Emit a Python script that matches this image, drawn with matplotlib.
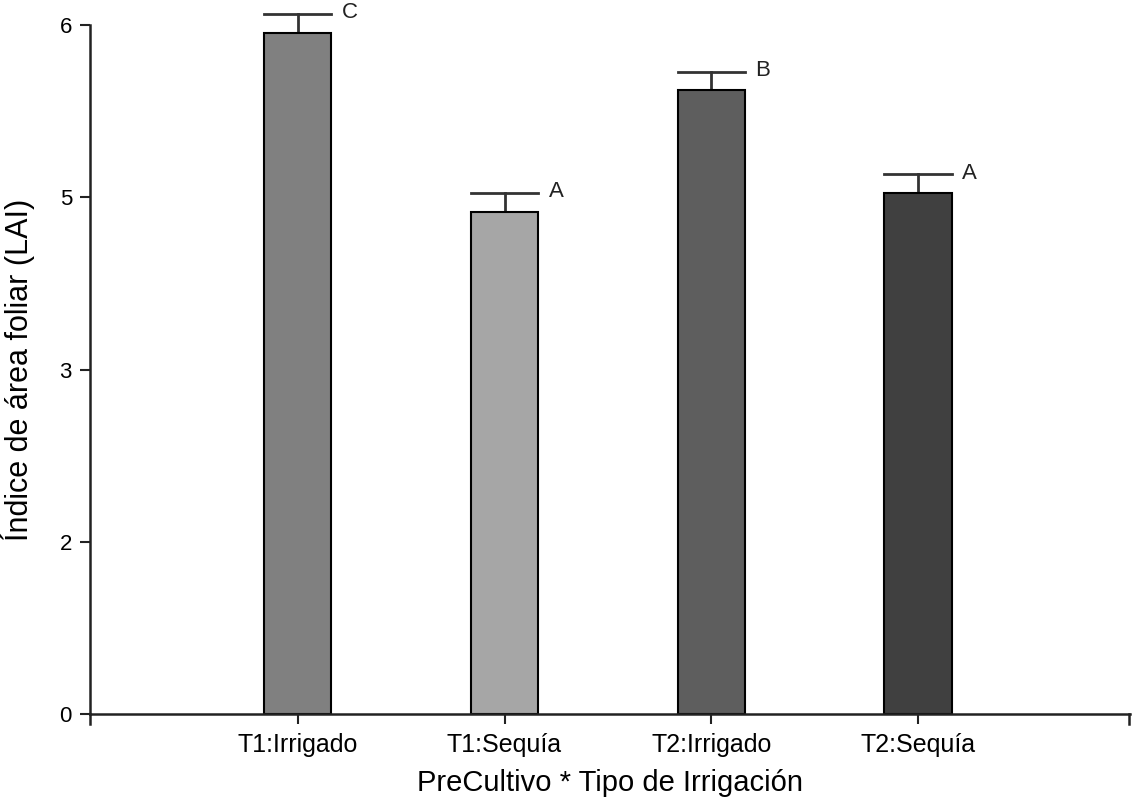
import matplotlib
matplotlib.use('Agg')
import matplotlib.pyplot as plt

categorias = ['T1:Irrigado', 'T1:Sequía', 'T2:Irrigado', 'T2:Sequía']
medias = [5.93, 4.37, 5.43, 4.54]
errores = [0.17, 0.17, 0.16, 0.16]
letras = ['C', 'A', 'B', 'A']
colores = ['#808080', '#a6a6a6', '#5e5e5e', '#404040']
yticks = [0, 1.5, 3, 4.5, 6]
ytick_labels = ['0', '2', '3', '5', '6']

plt.rcParams['font.family'] = ['Liberation Sans', 'DejaVu Sans']

fig = plt.figure(figsize=(11.33, 8.05), dpi=100)
ax = fig.add_axes([90 / 1133, 1 - 714 / 805, 1040 / 1133, 689 / 805])

x = list(range(len(categorias)))
ancho = 0.325
ax.bar(x, medias, width=ancho, color=colores, edgecolor='black', linewidth=1.5, zorder=2)

for i in x:
    top = medias[i] + errores[i]
    ax.plot([i, i], [medias[i], top], color='#333333', lw=2, zorder=1, clip_on=False)
    ax.plot([i - ancho / 2, i + ancho / 2], [top, top], color='#333333', lw=2,
            zorder=1, clip_on=False)
    ax.text(i + ancho / 2 + 0.05, top + 0.01, letras[i], fontsize=16, color='#222222',
            ha='left', va='center')

ax.set_xlim(-1.005, 4.025)
ax.set_ylim(0, 6)
ax.set_yticks(yticks)
ax.set_yticklabels(ytick_labels, fontsize=16)
ax.set_xticks(x)
ax.set_xticklabels(categorias, fontsize=18)
ax.tick_params(axis='both', direction='out', length=7, width=1.5, color='#222222')
ax.tick_params(axis='x', pad=7)
ax.tick_params(axis='y', pad=6)

for lado in ['top', 'right']:
    ax.spines[lado].set_visible(False)
for lado in ['left', 'bottom']:
    ax.spines[lado].set_linewidth(1.8)
    ax.spines[lado].set_color('#222222')

# marcas en los extremos del eje x
ax.plot([-1.005, -1.005], [0, -0.09], color='#222222', lw=1.8, clip_on=False)
ax.plot([4.02, 4.02], [0, -0.09], color='#222222', lw=1.8, clip_on=False)

ax.set_ylabel('Índice de área foliar (LAI)', fontsize=22, labelpad=18)
ax.set_xlabel('PreCultivo * Tipo de Irrigación', fontsize=21, labelpad=8)

fig.savefig('out.png', dpi=100)
